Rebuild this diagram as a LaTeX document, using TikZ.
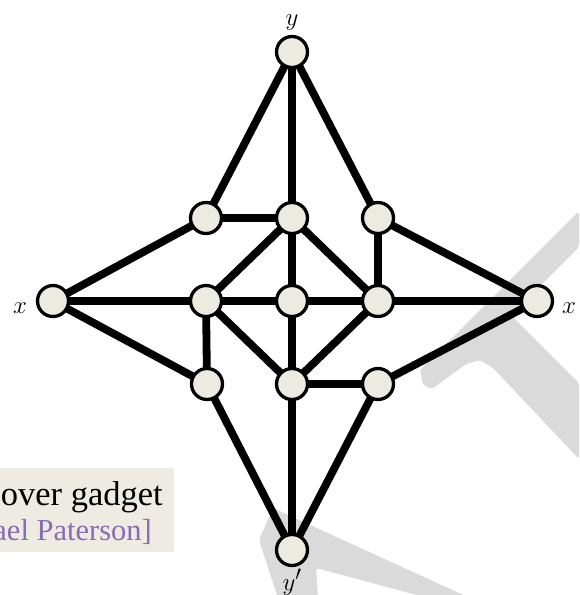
\documentclass[tikz,border=0pt]{standalone}
\usepackage{fontspec}
\setmainfont{Liberation Serif}
\usetikzlibrary{backgrounds}
\definecolor{nodefill}{RGB}{237,235,225}
\definecolor{wm}{RGB}{218,218,218}
\definecolor{capfill}{RGB}{237,235,226}
\definecolor{purp}{RGB}{139,108,178}
\begin{document}
\begin{tikzpicture}[x=1pt,y=-1pt,
  vtx/.style={circle,draw=black,fill=nodefill,line width=3.3pt,minimum size=31pt,inner sep=0pt},
  edge/.style={line width=7.8pt,black},
  lbl/.style={font=\fontsize{30}{30}\selectfont,inner sep=0pt,anchor=base},
  captext/.style={inner sep=0pt,anchor=base east},
  wmark/.style={fill=wm,rounded corners=3pt}]
\useasboundingbox (0,0) rectangle (579,595);

% caption box
\fill[capfill] (-5,468) rectangle (174,552);
\node[captext,text=black,font=\fontsize{34.5}{34.5}\selectfont] (cap1) at (163,505) {over gadget};
\node[captext,text=purp,font=\fontsize{30.5}{30.5}\selectfont] (cap2) at (152,540) {ael Paterson]};

% vertices
\node[vtx] (Y)  at (292,52)  {};
\node[vtx] (XL) at (53,301)  {};
\node[vtx] (XR) at (537,301) {};
\node[vtx] (Yp) at (292,550) {};
\node[vtx] (A1) at (206,218) {};
\node[vtx] (A2) at (292,218) {};
\node[vtx] (A3) at (378,218) {};
\node[vtx] (B1) at (206,301) {};
\node[vtx] (B2) at (292,301) {};
\node[vtx] (B3) at (378,301) {};
\node[vtx] (C1) at (207,384) {};
\node[vtx] (C2) at (292,384) {};
\node[vtx] (C3) at (378,384) {};

% labels
\node[lbl] (lY)  at (292,25)  {$y$};
\node[lbl] (lXL) at (20,313)  {$x$};
\node[lbl] (lXR) at (569,313) {$x$};
\node[lbl] (lYp) at (292,590) {$y'$};

\begin{pgfonlayer}{background}
  % watermark shapes
  \path[wmark] (579,211) -- (420,370) -- (423,385) -- (432,389) -- (466,364)
     -- (480,360) -- (493,368) -- (579,459) -- (579,383) -- (511,315) -- (579,247) -- cycle;
  \path[wmark] (273,508) -- (259,540) -- (278,598) -- (318,598) -- (316,568)
     -- (428,598) -- (470,598) -- cycle;
  % edges
  \foreach \a/\b in {Y/A1,Y/A2,Y/A3,A1/A2,A1/XL,A2/B1,A2/B2,A2/B3,A3/B3,A3/XR,
                     XL/B1,XL/C1,B1/B2,B2/B3,B3/XR,B1/C1,B1/C2,B2/C2,B3/C2,
                     C2/C3,C3/XR,C1/Yp,C2/Yp,C3/Yp}
    \draw[edge] (\a.center) -- (\b.center);
\end{pgfonlayer}
\end{tikzpicture}
\end{document}
